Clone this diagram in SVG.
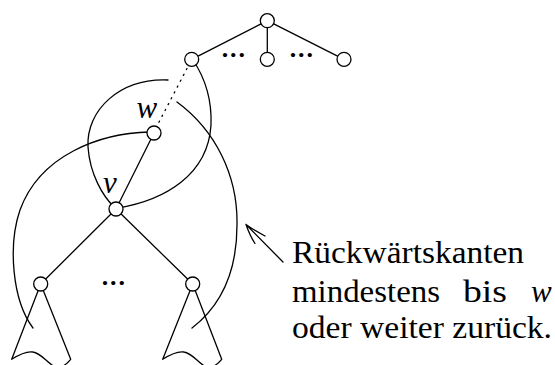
<svg xmlns="http://www.w3.org/2000/svg" width="555" height="365" viewBox="0 0 555 365">
<style>
.e{fill:none;stroke:#000;stroke-width:1.3;stroke-linecap:round;stroke-linejoin:round}
.n{fill:#fff;stroke:#000;stroke-width:1.3}
.t{font-family:"Liberation Serif","Times New Roman",serif;font-size:31px;fill:#000}
.i{font-family:"Liberation Serif","Times New Roman",serif;font-style:italic;font-size:31px;fill:#000}
.d{font-family:"Liberation Serif","Times New Roman",serif;font-weight:bold;font-size:26px;letter-spacing:1.8px;fill:#000}
</style>
<rect width="555" height="365" fill="#fff"/>
<g id="connectors">
  <line class="e" x1="267.3" y1="20.7" x2="191.7" y2="59.3"/>
  <line class="e" x1="267.3" y1="20.7" x2="267.3" y2="59.3"/>
  <line class="e" x1="267.3" y1="20.7" x2="344" y2="59.3"/>
  <line class="e" x1="154" y1="133" x2="116" y2="209"/>
  <line class="e" x1="116" y1="209" x2="40.7" y2="284"/>
  <line class="e" x1="116" y1="209" x2="192.7" y2="284"/>
  <line class="e" x1="187" y1="68.5" x2="158" y2="124" stroke-dasharray="1.2 5.4"/>
  <path class="e" d="M168,80 C120,78 86,110 88,147 C90,175 103,196 114,207"/>
  <path class="e" d="M118,208 C165,200 208,175 211,125 C212,100 205,78 193,60"/>
  <path class="e" d="M150,132 C100,133 40,155 20,210 C8,245 12,300 33,328"/>
  <path class="e" d="M177,102 C215,130 238,175 237,225 C237,272 222,305 192,328"/>
  <path class="e" d="M283,262 L246,224.5 M265,236 Q252,229 246,224.5 Q250,236 255,243.5"/>
</g>
<g id="subtree-left">
  <path class="e" d="M40.7,284 L11.7,359.3 C20,354 27,351 33,352 C41,353 46,362 55,367 C60,369 65,366 70.7,359.3 L40.7,284"/>
</g>
<g id="subtree-right">
  <path class="e" d="M192.7,284 L162.7,359.3 C171,354 178,351 184,352 C192,353 197,362 206,367 C211,369 216,366 221.7,359.3 L192.7,284"/>
</g>
<g id="root"><circle class="n" cx="267.3" cy="20.7" r="7"/></g>
<g id="top-left"><circle class="n" cx="191.7" cy="59.3" r="7"/></g>
<g id="top-mid"><circle class="n" cx="267.3" cy="59.3" r="7"/></g>
<g id="top-right"><circle class="n" cx="344" cy="59.3" r="7"/></g>
<g id="w"><circle class="n" cx="154" cy="133" r="7"/><text class="i" x="136.5" y="118">w</text></g>
<g id="v"><circle class="n" cx="116" cy="209" r="7"/><text class="i" x="103" y="193">v</text></g>
<g id="child-left"><circle class="n" cx="40.7" cy="284" r="7"/></g>
<g id="child-right"><circle class="n" cx="192.7" cy="284" r="7"/></g>
<g id="dots">
  <text class="d" x="221.8" y="56.8">...</text>
  <text class="d" x="289.8" y="56.8">...</text>
  <text class="d" x="101.8" y="284.5">...</text>
</g>
<g id="label">
  <text class="t" x="292" y="263.3" textLength="232" lengthAdjust="spacingAndGlyphs">Rückwärtskanten</text>
  <text class="t" x="292" y="301.7" textLength="148" lengthAdjust="spacingAndGlyphs">mindestens</text>
  <text class="t" x="463" y="301.7" textLength="44" lengthAdjust="spacingAndGlyphs">bis</text>
  <text class="i" x="531" y="301.7">w</text>
  <text class="t" x="292" y="338.3" textLength="260" lengthAdjust="spacingAndGlyphs">oder weiter zurück.</text>
</g>
</svg>
